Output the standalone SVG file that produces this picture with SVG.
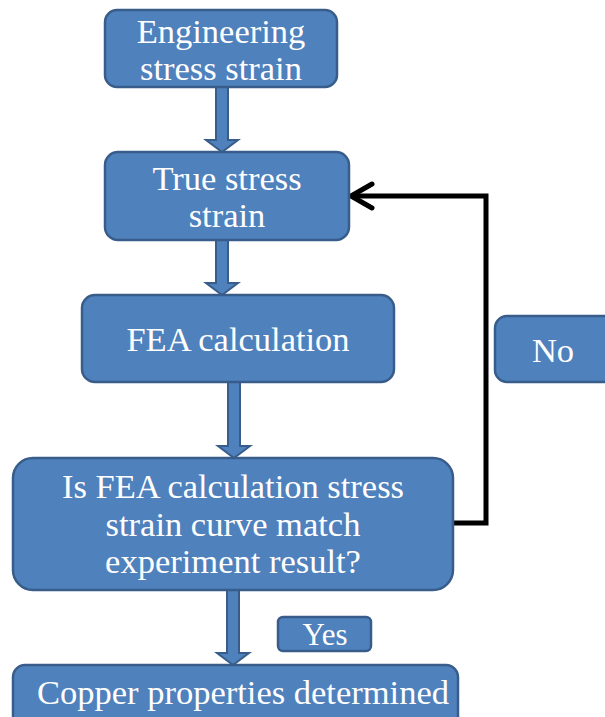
<svg xmlns="http://www.w3.org/2000/svg" width="605" height="717" viewBox="0 0 605 717">
<defs>
<style>
.box{fill:#4F81BD;stroke:#385D8A;stroke-width:2.5}
.t{fill:#fff;font-family:"Liberation Serif","Times New Roman",serif;font-size:34.5px;text-anchor:middle}
.arr{fill:#4F81BD;stroke:#385D8A;stroke-width:2}
.conn{fill:none;stroke:#000;stroke-width:5;stroke-linejoin:miter}
</style>
</defs>
<rect width="605" height="717" fill="#fff"/>
<g id="connectors">
<path class="arr" d="M216,87 H228 V140 H238 L222,152 L206,140 H216 Z"/>
<path class="arr" d="M216,240 H228 V283 H238 L222,295 L206,283 H216 Z"/>
<path class="arr" d="M228,382 H240 V446 H250 L234,458 L218,446 H228 Z"/>
<path class="arr" d="M227,590 H239 V653 H249 L233,665 L217,653 H227 Z"/>
<path class="conn" d="M453,523 H486 V196 H351"/>
<path class="conn" d="M372,184 L351,196 L372,208" stroke-linecap="round" stroke-linejoin="round"/>
</g>
<g id="n1"><rect class="box" x="105" y="10" width="232" height="77" rx="12"/><text class="t" x="221" y="43">Engineering</text><text class="t" x="221" y="80">stress strain</text></g>
<g id="n2"><rect class="box" x="105" y="152" width="244" height="88" rx="13"/><text class="t" x="227" y="190">True stress</text><text class="t" x="227" y="227">strain</text></g>
<g id="n3"><rect class="box" x="82" y="295" width="312" height="87" rx="13"/><text class="t" x="238" y="351">FEA calculation</text></g>
<g id="n4"><rect class="box" x="13" y="458" width="440" height="132" rx="20"/><text class="t" x="233" y="498">Is FEA calculation stress</text><text class="t" x="233" y="536">strain curve match</text><text class="t" x="233" y="573">experiment result?</text></g>
<g id="n5"><rect class="box" x="13" y="665" width="445" height="70" rx="12"/><text class="t" x="243" y="704">Copper properties determined</text></g>
<g id="no"><rect class="box" x="495" y="316" width="125" height="66" rx="12"/><text class="t" x="553" y="362">No</text></g>
<g id="yes"><rect class="box" x="278" y="617" width="93" height="34" rx="5"/><text class="t" x="325" y="645" style="font-size:31px">Yes</text></g>
</svg>
